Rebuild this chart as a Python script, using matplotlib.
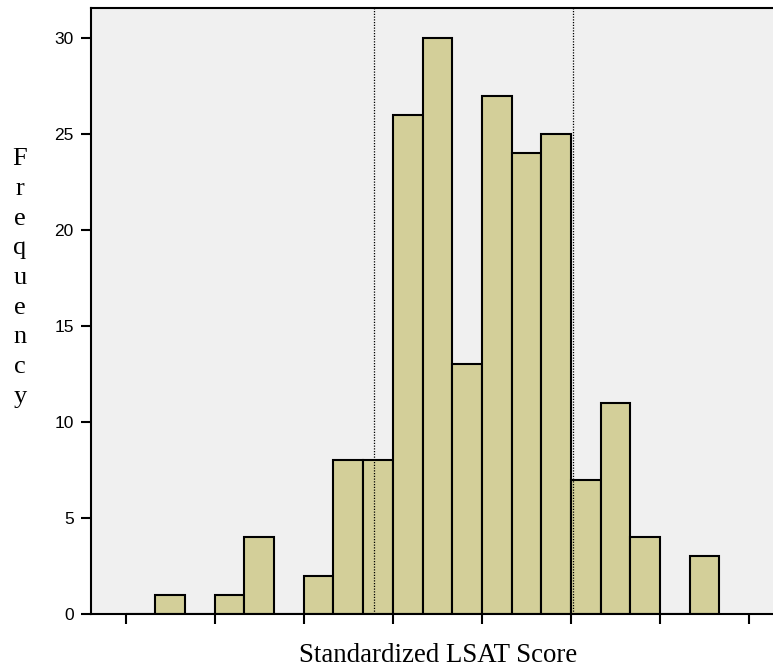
import numpy as np
import matplotlib.pyplot as plt

# histogram of standardized LSAT scores, bins
bin_left = [0, 1, 2, 3, 4, 5, 6, 7, 8, 9, 10, 11, 12, 13, 14, 15, 16, 17, 18, 19]
counts = [0, 1, 0, 1, 4, 0, 2, 8, 8, 26, 30, 13, 27, 24, 25, 7, 11, 4, 0, 3]
bin_w = 1 / 3
ref_lines = [2.785, 5.02]   # dotted reference lines
xticks = [0, 1, 2, 3, 4, 5, 6, 7]
yticks = [0, 5, 10, 15, 20, 25, 30]

fig = plt.figure(figsize=(7.73, 6.67), dpi=100)
ax = fig.add_axes([91 / 773, 1 - 614 / 667, 1 - 91 / 773, (614 - 8) / 667])
ax.set_facecolor("#F0F0F0")

lefts = np.array(bin_left) * bin_w
ax.bar(lefts, counts, width=bin_w, align="edge", color="#D3CF99",
       edgecolor="black", linewidth=1.5, zorder=2)

for x in ref_lines:
    ax.axvline(x, color="black", linestyle=(0, (1, 1.2)), linewidth=0.9, zorder=3)

ax.set_xlim(-0.39, 7.27)
ax.set_ylim(0, 31.56)
ax.set_xticks(xticks)
ax.set_xticklabels([])
ax.set_yticks(yticks)
ax.set_yticklabels([str(v) for v in yticks], family="Liberation Sans", fontsize=12.5)

ax.tick_params(axis="both", direction="out", length=7.5, width=1.5, color="black")
ax.tick_params(axis="y", pad=5)
for s in ["left", "top", "bottom"]:
    ax.spines[s].set_linewidth(1.5)
ax.spines["right"].set_visible(False)

fig.text(438 / 773, 1 - 655 / 667, "Standardized LSAT Score", family="Liberation Serif",
         fontsize=19.4, ha="center", va="center")
fig.text(20 / 773, 1 - 278 / 667, "\n".join("Frequency"), family="Liberation Serif",
         fontsize=19, ha="center", va="center", linespacing=1.45)

plt.savefig("out.png", dpi=100)
